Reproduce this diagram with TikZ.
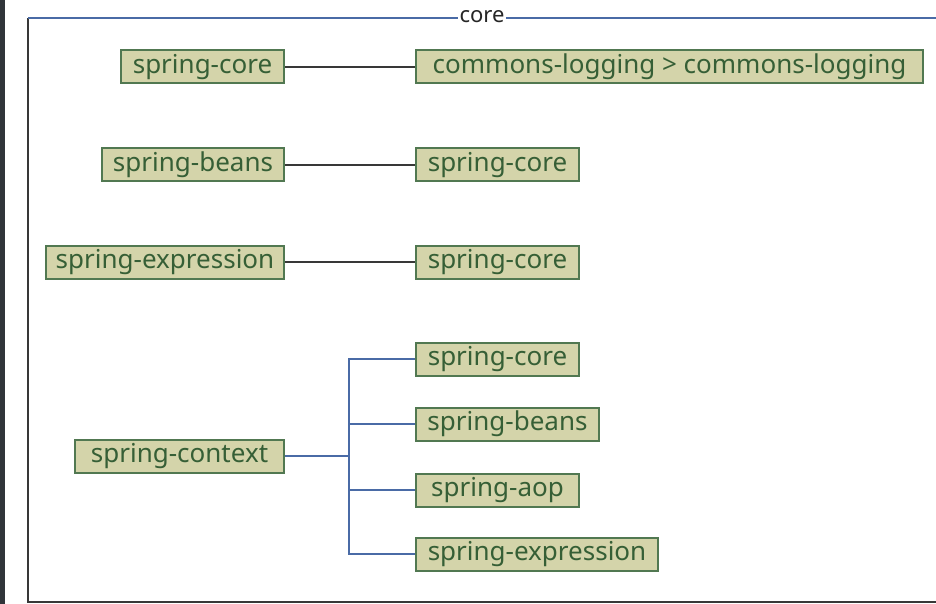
\documentclass[tikz,border=0pt]{standalone}
\usepackage{fontspec}
\setmainfont{Noto Sans}
\definecolor{boxfill}{HTML}{D4D4AA}
\definecolor{boxdraw}{HTML}{517851}
\definecolor{boxtext}{HTML}{365F36}
\definecolor{blueln}{HTML}{4A6BA6}
\definecolor{darkln}{HTML}{383838}
\definecolor{strip}{HTML}{30353A}
\tikzset{
  dep/.style={draw=boxdraw, fill=boxfill, text=boxtext, line width=2pt,
    minimum height=33pt, inner sep=0pt, font=\fontsize{26}{26}\selectfont},
  blkline/.style={draw=darkln, line width=2pt},
  bluline/.style={draw=blueln, line width=2pt},
}
\begin{document}
\begin{tikzpicture}[x=1pt,y=-1pt]
\useasboundingbox (0,0) rectangle (936,604);
\fill[white] (0,0) rectangle (936,604);
\fill[strip] (0,0) rectangle (5,604);
% frame
\coordinate (tl) at (28,18);
\coordinate (tr) at (936,18);
\coordinate (bl) at (28,602);
\coordinate (br) at (936,602);
\draw[blkline] (tl) -- (bl) -- (br);
\draw[bluline] (tl) -- (tr);
\node[fill=white, inner sep=2pt, text=black!85, font=\fontsize{22}{22}\selectfont] (core) at (482,17) {core};
% row 1
\node[dep, anchor=east, minimum width=163pt] (a1) at (285,67) {spring-core};
\node[dep, anchor=west, minimum width=507pt] (b1) at (415,67) {commons-logging > commons-logging};
\draw[blkline] (a1.east) -- (b1.west);
% row 2
\node[dep, anchor=east, minimum width=182pt] (a2) at (285,165) {spring-beans};
\node[dep, anchor=west, minimum width=163pt] (b2) at (415,165) {spring-core};
\draw[blkline] (a2.east) -- (b2.west);
% row 3
\node[dep, anchor=east, minimum width=238pt] (a3) at (285,262) {spring-expression};
\node[dep, anchor=west, minimum width=163pt] (b3) at (415,262) {spring-core};
\draw[blkline] (a3.east) -- (b3.west);
% row 4
\node[dep, anchor=east, minimum width=209pt] (ctx) at (285,456) {spring-context};
\node[dep, anchor=west, minimum width=163pt] (c1) at (415,359) {spring-core};
\node[dep, anchor=west, minimum width=183pt] (c2) at (415,424) {spring-beans};
\node[dep, anchor=west, minimum width=163pt] (c3) at (415,490) {spring-aop};
\node[dep, anchor=west, minimum width=242pt] (c4) at (415,554) {spring-expression};
\coordinate (j) at (349,456);
\draw[bluline] (ctx.east) -- (j);
\draw[bluline] (c1.west) -| (j) |- (c4.west);
\draw[bluline] (c2.west) -- (j |- c2.west);
\draw[bluline] (c3.west) -- (j |- c3.west);
\end{tikzpicture}
\end{document}
